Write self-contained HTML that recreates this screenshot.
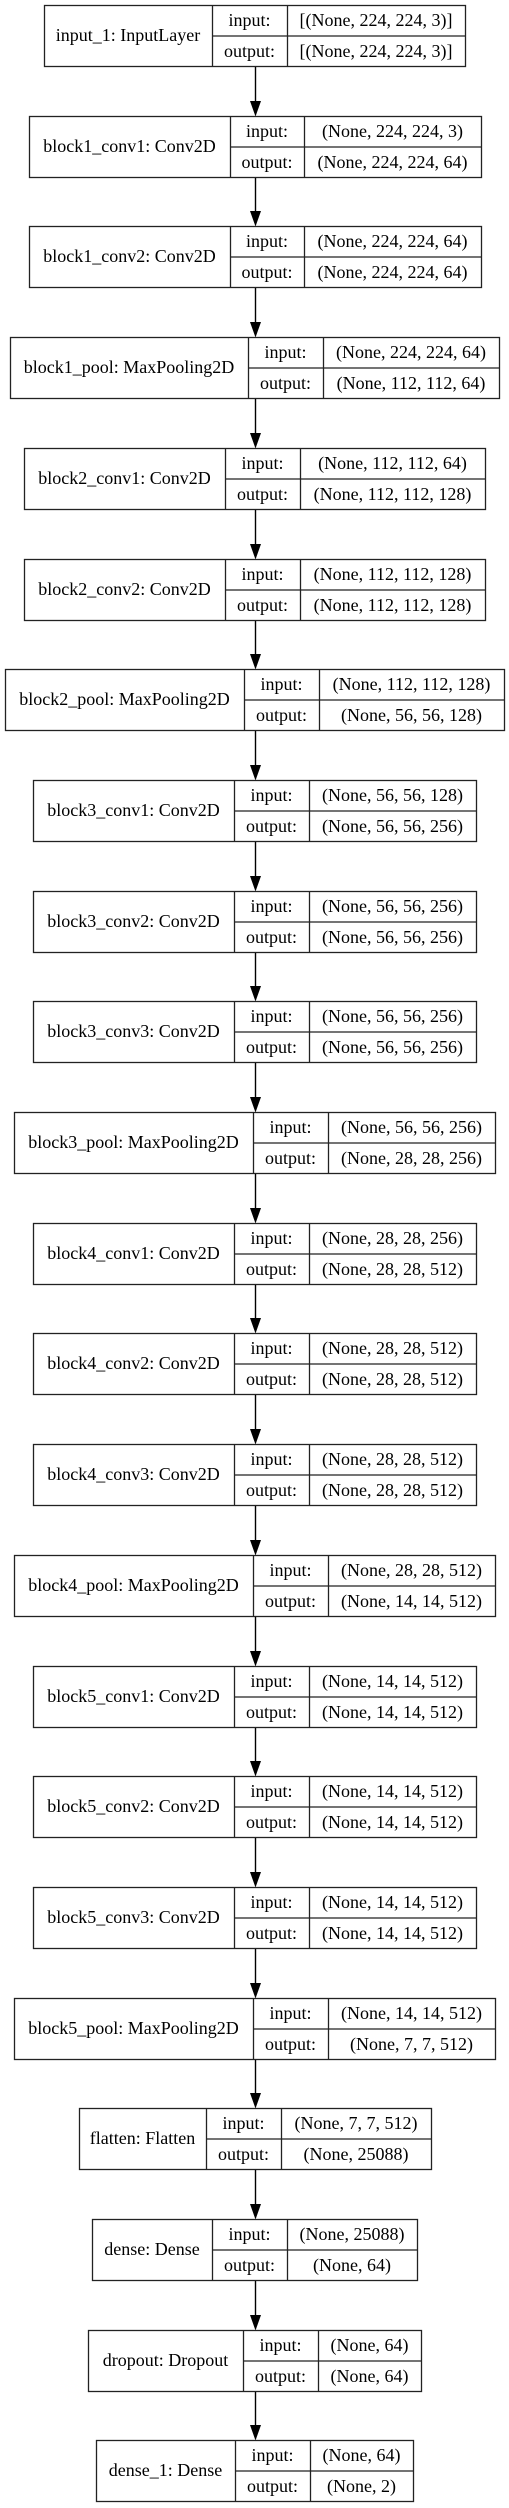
<!DOCTYPE html>
<html><head><meta charset="utf-8">
<style>
html,body{margin:0;padding:0;background:#fff;}
svg{display:block;}
svg text{font-family:"Liberation Serif","DejaVu Serif","Times New Roman",serif !important;font-size:18px;fill:#000;}
</style></head>
<body>
<svg id="diagram" width="509" height="2508" viewBox="0 0 509 2508" xmlns="http://www.w3.org/2000/svg"></svg>
<script>
const layerNames = ["input_1: InputLayer","block1_conv1: Conv2D","block1_conv2: Conv2D","block1_pool: MaxPooling2D","block2_conv1: Conv2D","block2_conv2: Conv2D","block2_pool: MaxPooling2D","block3_conv1: Conv2D","block3_conv2: Conv2D","block3_conv3: Conv2D","block3_pool: MaxPooling2D","block4_conv1: Conv2D","block4_conv2: Conv2D","block4_conv3: Conv2D","block4_pool: MaxPooling2D","block5_conv1: Conv2D","block5_conv2: Conv2D","block5_conv3: Conv2D","block5_pool: MaxPooling2D","flatten: Flatten","dense: Dense","dropout: Dropout","dense_1: Dense"];
const inputShapes = ["[(None, 224, 224, 3)]","(None, 224, 224, 3)","(None, 224, 224, 64)","(None, 224, 224, 64)","(None, 112, 112, 64)","(None, 112, 112, 128)","(None, 112, 112, 128)","(None, 56, 56, 128)","(None, 56, 56, 256)","(None, 56, 56, 256)","(None, 56, 56, 256)","(None, 28, 28, 256)","(None, 28, 28, 512)","(None, 28, 28, 512)","(None, 28, 28, 512)","(None, 14, 14, 512)","(None, 14, 14, 512)","(None, 14, 14, 512)","(None, 14, 14, 512)","(None, 7, 7, 512)","(None, 25088)","(None, 64)","(None, 64)"];
const outputShapes = ["[(None, 224, 224, 3)]","(None, 224, 224, 64)","(None, 224, 224, 64)","(None, 112, 112, 64)","(None, 112, 112, 128)","(None, 112, 112, 128)","(None, 56, 56, 128)","(None, 56, 56, 256)","(None, 56, 56, 256)","(None, 56, 56, 256)","(None, 28, 28, 256)","(None, 28, 28, 512)","(None, 28, 28, 512)","(None, 28, 28, 512)","(None, 14, 14, 512)","(None, 14, 14, 512)","(None, 14, 14, 512)","(None, 14, 14, 512)","(None, 7, 7, 512)","(None, 25088)","(None, 64)","(None, 64)","(None, 2)"];

// layout geometry (left, labelDivider, portDivider, right) per box
const boxGeom = [[44,212,287,465],[29,230,304,481],[29,230,304,481],[10,248,323,499],[24,225,300,485],[24,225,300,485],[5,244,319,504],[33,234,309,476],[33,234,309,476],[33,234,309,476],[14,253,328,495],[33,234,309,476],[33,234,309,476],[33,234,309,476],[14,253,328,495],[33,234,309,476],[33,234,309,476],[33,234,309,476],[14,253,328,495],[79,206,281,431],[92,212,287,417],[88,243,318,421],[96,235,310,413]];

const NS = "http://www.w3.org/2000/svg";
const svg = document.getElementById("diagram");
const TOP0 = 5, PITCH = 110.7, H = 61, AX = 255;
const FONT = '"Liberation Serif","DejaVu Serif","Times New Roman",serif';
function mk(tag, attrs, parent){
  const e = document.createElementNS(NS, tag);
  for (const k in attrs) e.setAttribute(k, attrs[k]);
  (parent||svg).appendChild(e);
  return e;
}
function txt(x, y, s, parent){
  const t = mk("text", {x:x, y:y, "text-anchor":"middle", "font-family":FONT, "font-size":"18"}, parent);
  t.style.fontFamily = FONT;
  t.textContent = s;
  return t;
}
for (let i = 0; i < layerNames.length; i++) {
  const top = Math.round(TOP0 + i*PITCH);
  const [l, d1, d2, r] = boxGeom[i];
  const slug = layerNames[i].split(":")[0].replace(/_/g,"-");
  const g = mk("g", {});
  
  
  const st = {fill:"none", stroke:"#222", "stroke-width":"1.3"};
  mk("rect", Object.assign({x:l+0.5, y:top+0.5, width:r-l, height:H}, st), g);
  mk("line", Object.assign({x1:d1+0.5, y1:top, x2:d1+0.5, y2:top+H}, st), g);
  mk("line", Object.assign({x1:d2+0.5, y1:top, x2:d2+0.5, y2:top+H}, st), g);
  mk("line", Object.assign({x1:d1, y1:top+31, x2:r, y2:top+31}, st), g);
  const lbl = txt((l+d1)/2, top+36, layerNames[i], g);
  
  
  const il = txt((d1+d2)/2, top+21, "input:", g);
  
  
  const ol = txt((d1+d2)/2, top+52, "output:", g);
  
  
  const iv = txt((d2+r)/2, top+21, inputShapes[i], g);
  
  
  const ov = txt((d2+r)/2, top+52, outputShapes[i], g);
  
  
  if (i < layerNames.length - 1) {
    const nextTop = Math.round(TOP0 + (i+1)*PITCH);
    const a = mk("g", {});
    
    
    mk("line", {x1:AX+0.5, y1:top+H+1, x2:AX+0.5, y2:nextTop-12, stroke:"#000", "stroke-width":"1.4"}, a);
    mk("polygon", {points:(AX-5)+","+(nextTop-15)+" "+(AX+6)+","+(nextTop-15)+" "+(AX+0.5)+","+(nextTop+0.5), fill:"#000"}, a);
  }
}
</script>
</body></html>
